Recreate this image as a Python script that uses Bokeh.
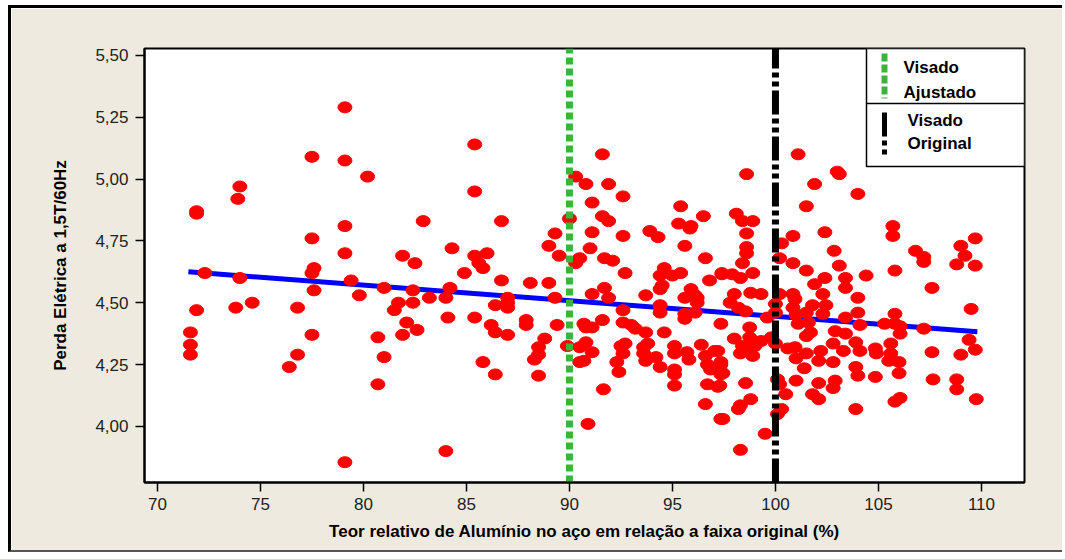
from bokeh.plotting import figure
from bokeh.models import Range1d, FixedTicker, Label
from bokeh.embed import file_html
from bokeh.resources import INLINE
from bokeh.core.properties import value

# ---------------- data ----------------
aluminio = [
    79.1, 77.5, 79.1, 80.2, 74.0, 73.9, 71.9, 71.9, 79.1, 77.5, 79.1, 81.9, 82.5, 82.9, 77.6, 77.5, 72.3, 74.0, 79.4,
    77.6, 79.8, 81.0, 82.4, 83.2, 71.9, 73.8, 74.6, 76.8, 81.7, 81.5, 82.4, 82.1, 81.9, 82.6, 71.6, 71.6, 71.6, 77.5,
    80.7, 76.8, 76.4, 81.0, 80.7, 79.1, 84.0,
    85.4, 85.4, 86.7, 84.3, 85.4, 86.0, 85.6, 85.8, 84.9, 84.2, 86.7, 88.1, 89.0, 84.0, 87.0, 89.3, 89.3, 89.0, 89.5,
    90.0, 90.3, 91.6, 90.8, 91.9, 92.6, 91.1, 91.6, 91.9, 91.1, 92.6, 91.0, 90.5, 90.3, 91.7, 92.1, 92.7, 93.9, 94.3,
    95.4, 95.3, 95.9, 95.85, 96.5, 95.6, 96.6, 94.6, 94.4, 95.0, 95.4, 96.8, 97.4, 94.4, 94.5, 95.9, 91.1, 91.7, 91.9,
    93.7, 95.6, 96.2,
    86.4, 87.0, 87.0, 84.1, 85.4, 86.2, 86.4, 87.0, 87.9, 87.9, 89.4, 90.7, 91.1, 90.8, 91.6, 92.6, 92.6, 93.0, 93.2,
    93.7, 94.6, 94.4, 94.4, 96.1, 96.2, 95.6, 95.6, 96.1, 97.35, 88.8, 88.5, 88.5, 88.3, 85.8, 86.4, 88.5, 89.9, 90.5,
    90.8, 91.1, 90.5, 90.7, 92.5, 92.7, 92.6, 92.3, 93.6, 93.8, 93.6, 93.7, 94.2, 94.4, 95.1, 95.1, 95.7, 95.8, 95.1,
    95.1, 95.1, 92.4, 91.65, 96.4, 96.6, 97.05, 96.7, 96.85, 97.35, 97.35, 96.7, 97.2, 96.6, 97.35, 90.9,
    101.1, 98.6, 103.0, 103.1, 101.9, 104.0, 101.5, 98.1, 98.4, 98.9, 98.6, 98.6, 98.6, 98.4, 97.4, 97.9, 98.3, 98.9,
    100.3, 100.85, 102.4, 100.2, 100.85, 102.85, 103.1, 101.5, 102.4, 101.9, 103.4, 103.4, 104.4, 102.3, 104.0, 105.7,
    105.7, 105.8, 106.8, 107.2, 107.2, 107.6, 109.0, 109.7, 109.2, 108.8, 109.7, 109.5, 98.0, 98.8, 99.3, 97.8, 100.2,
    100.85, 100.95,
    98.55, 98.2, 100.0, 100.0, 99.6, 100.85, 101.0, 101.5, 101.8, 102.45, 102.3, 101.1, 101.6, 103.4, 104.0, 104.1,
    105.8, 105.8, 106.05, 105.3, 106.05, 107.2, 109.4, 109.7, 109.0, 107.6, 107.65, 108.8, 108.8, 109.75, 98.0, 98.75,
    98.75, 98.4, 98.65, 98.3, 99.0, 98.9, 99.3, 99.8, 100.0, 100.6, 100.95, 101.5, 101.7, 102.9, 103.4, 102.8, 103.3,
    101.5, 102.2, 102.1, 102.8, 101.0, 101.4, 103.9, 104.1, 103.9, 104.0, 104.85, 104.9, 104.85, 105.6, 105.6, 105.5,
    106.0, 106.0, 105.8, 106.05, 97.2, 97.35, 97.45, 97.3, 98.55, 100.1, 100.2, 101.0, 100.5, 100.3, 100.1, 102.1,
    102.9, 102.8, 101.8, 102.1, 98.8, 98.3, 98.2, 103.9, 97.45, 99.5, 98.3,
]
perda = [
    5.29, 5.09, 5.075, 5.01, 4.97, 4.92, 4.87, 4.86, 4.81, 4.76, 4.70, 4.69, 4.66, 4.83, 4.64, 4.62, 4.62, 4.60, 4.59,
    4.55, 4.53, 4.56, 4.55, 4.52, 4.47, 4.48, 4.50, 4.48, 4.50, 4.47, 4.50, 4.42, 4.37, 4.39, 4.38, 4.33, 4.29, 4.37,
    4.36, 4.29, 4.24, 4.28, 4.17, 3.855, 3.90,
    5.14, 4.95, 4.83, 4.72, 4.69, 4.70, 4.66, 4.64, 4.62, 4.56, 4.59, 4.58, 4.58, 4.52, 4.52, 4.52, 4.78, 4.73, 4.69,
    4.84, 5.01, 5.10, 4.98, 4.98, 4.93, 4.905, 4.85, 4.83, 4.785, 4.77, 4.72, 4.68, 4.66, 4.68, 4.67, 4.62, 4.79, 4.765,
    4.89, 4.82, 4.81, 4.80, 4.85, 4.73, 4.68, 4.64, 4.61, 4.61, 4.62, 4.59, 4.62, 4.555, 4.57, 4.555, 4.535, 4.56, 4.52,
    4.53, 4.52, 4.52,
    4.49, 4.50, 4.48, 4.44, 4.44, 4.41, 4.38, 4.37, 4.43, 4.41, 4.41, 4.415, 4.40, 4.40, 4.43, 4.47, 4.42, 4.41, 4.395,
    4.38, 4.38, 4.49, 4.46, 4.53, 4.50, 4.455, 4.435, 4.46, 4.415, 4.355, 4.32, 4.29, 4.27, 4.26, 4.21, 4.205, 4.325, 4.32,
    4.34, 4.30, 4.26, 4.265, 4.325, 4.335, 4.295, 4.26, 4.32, 4.335, 4.295, 4.265, 4.28, 4.24, 4.325, 4.295, 4.30, 4.27, 4.23,
    4.21, 4.165, 4.22, 4.15, 4.33, 4.285, 4.305, 4.25, 4.23, 4.25, 4.21, 4.17, 4.16, 4.09, 4.03, 4.01,
    5.10, 5.02, 5.03, 5.02, 4.98, 4.94, 4.89, 4.86, 4.83, 4.83, 4.78, 4.725, 4.70, 4.66, 4.615, 4.615, 4.60, 4.62,
    4.74, 4.77, 4.785, 4.68, 4.66, 4.71, 4.65, 4.63, 4.60, 4.575, 4.60, 4.56, 4.61, 4.535, 4.52, 4.81,
    4.77, 4.63, 4.71, 4.685, 4.665, 4.56, 4.73, 4.76, 4.69, 4.655, 4.65, 4.475, 4.535, 4.54, 4.535, 4.50, 4.535,
    4.535, 4.515,
    4.465, 4.48, 4.495, 4.46, 4.44, 4.48, 4.45, 4.46, 4.49, 4.49, 4.455, 4.415, 4.42, 4.44, 4.46, 4.41,
    4.455, 4.415, 4.405, 4.415, 4.375, 4.395, 4.35, 4.31, 4.29, 4.30, 4.19, 4.19, 4.15, 4.11, 4.355, 4.40,
    4.36, 4.325, 4.305, 4.295, 4.325, 4.285, 4.345, 4.36, 4.335, 4.315, 4.32, 4.365, 4.38, 4.385, 4.375, 4.335, 4.305,
    4.295, 4.305, 4.265, 4.26, 4.275, 4.235, 4.34, 4.305, 4.24, 4.205, 4.315, 4.295, 4.20, 4.335, 4.295, 4.265,
    4.26, 4.215, 4.10, 4.115, 4.305, 4.26, 4.215, 4.165, 4.175, 4.19, 4.17, 4.185, 4.13, 4.07, 4.05, 4.175,
    4.185, 4.155, 4.13, 4.11, 4.11, 4.085, 4.07, 4.07, 4.03, 3.97, 3.905,
]

ajuste_x = [71.5, 109.8]          # fitted regression line ends
ajuste_y = [4.625, 4.383]

visado_ajustado = 90
visado_original = 100

x_ticks = [70, 75, 80, 85, 90, 95, 100, 105, 110]
y_ticks = [4.00, 4.25, 4.50, 4.75, 5.00, 5.25, 5.50]
y_tick_labels = ["4,00", "4,25", "4,50", "4,75", "5,00", "5,25", "5,50"]

legend_labels = [["Visado", "Ajustado"], ["Visado", "Original"]]

# ---------------- figure ----------------
X0, X1 = 69.37, 112.09
Y0, Y1 = 3.773, 5.528
BEIGE = "#EEEAE0"
FONT = "Liberation Sans"

p = figure(width=1054, height=547, output_backend="svg", toolbar_location=None,
           x_range=Range1d(X0, X1), y_range=Range1d(Y0, Y1),
           min_border_left=133, min_border_right=41, min_border_top=40, min_border_bottom=73,
           background_fill_color="white", border_fill_color=BEIGE)
p.styles = {"position": "relative", "left": "8px", "top": "5px",
            "border-top": "3px solid black", "border-left": "3px solid black",
            "border-bottom": "2px solid #555555", "border-right": "0px none transparent"}
p.grid.visible = False
p.outline_line_color = "black"
p.outline_line_width = 2

for ax in (p.xaxis[0], p.yaxis[0]):
    ax.axis_line_color = "black"
    ax.axis_line_width = 2
    ax.major_tick_line_color = "black"
    ax.major_tick_line_width = 1.5
    ax.major_tick_in = 0
    ax.major_tick_out = 9
    ax.minor_tick_line_color = None
    ax.major_label_text_font = FONT
    ax.major_label_text_font_size = "17px"
    ax.major_label_text_color = "#222222"
    ax.axis_label_text_font = FONT
    ax.axis_label_text_font_style = "bold"
    ax.axis_label_text_font_size = "17px"
    ax.axis_label_text_color = "black"

p.xaxis.ticker = FixedTicker(ticks=x_ticks)
p.yaxis.ticker = FixedTicker(ticks=y_ticks)
p.yaxis.major_label_overrides = {t: l for t, l in zip(y_ticks, y_tick_labels)}
p.xaxis.axis_label = "Teor relativo de Alumínio no aço em relação a faixa original (%)"
p.yaxis.axis_label = "Perda Elétrica a 1,5T/60Hz"
p.xaxis.major_label_standoff = 6
p.xaxis.axis_label_standoff = 9
p.yaxis.major_label_standoff = 7
p.yaxis.axis_label_standoff = 22

# regression line
p.line(ajuste_x, ajuste_y, line_color="#0000FF", line_width=5)

# points
p.ellipse(aluminio, perda, width=14, height=11, width_units="screen", height_units="screen",
          fill_color="#FF0000", line_color="#FF0000")

# vertical reference lines
p.segment(x0=[visado_ajustado], y0=[Y0], x1=[visado_ajustado], y1=[Y1],
          line_color="#3CB43C", line_width=7, line_dash="7 4")
p.segment(x0=[visado_original], y0=[Y0], x1=[visado_original], y1=[Y1],
          line_color="black", line_width=7, line_dash="24 4 5 4 5 4")

# ---------------- legend (page pixel layout) ----------------
def fx(px):
    return X0 + (px - 144) / (1024 - 144) * (X1 - X0)

def fy(py):
    return Y1 - (py - 48) / (482 - 48) * (Y1 - Y0)

p.quad(left=[fx(866)], right=[fx(1024)], top=[fy(48)], bottom=[fy(166)],
       fill_color="white", line_color="black", line_width=1.5)
p.segment(x0=[fx(866)], y0=[fy(103)], x1=[fx(1024)], y1=[fy(103)], line_color="black", line_width=1.5)
p.segment(x0=[fx(884)], y0=[fy(53)], x1=[fx(884)], y1=[fy(98)],
          line_color="#3CB43C", line_width=6, line_dash="8 3")
p.segment(x0=[fx(884)], y0=[fy(112)], x1=[fx(884)], y1=[fy(154)],
          line_color="black", line_width=5, line_dash="24 4 5 4 5 4")

text_rows = [(903, 67, legend_labels[0][0]), (903, 92, legend_labels[0][1]),
             (907, 120, legend_labels[1][0]), (907, 143, legend_labels[1][1])]
for px, py, t in text_rows:
    p.add_layout(Label(x=fx(px), y=fy(py), text=t, text_font=FONT, text_font_style="bold",
                       text_font_size="17px", text_baseline="middle", text_align="left",
                       text_color="black"))

open("out.html", "w").write(file_html(p, INLINE))
